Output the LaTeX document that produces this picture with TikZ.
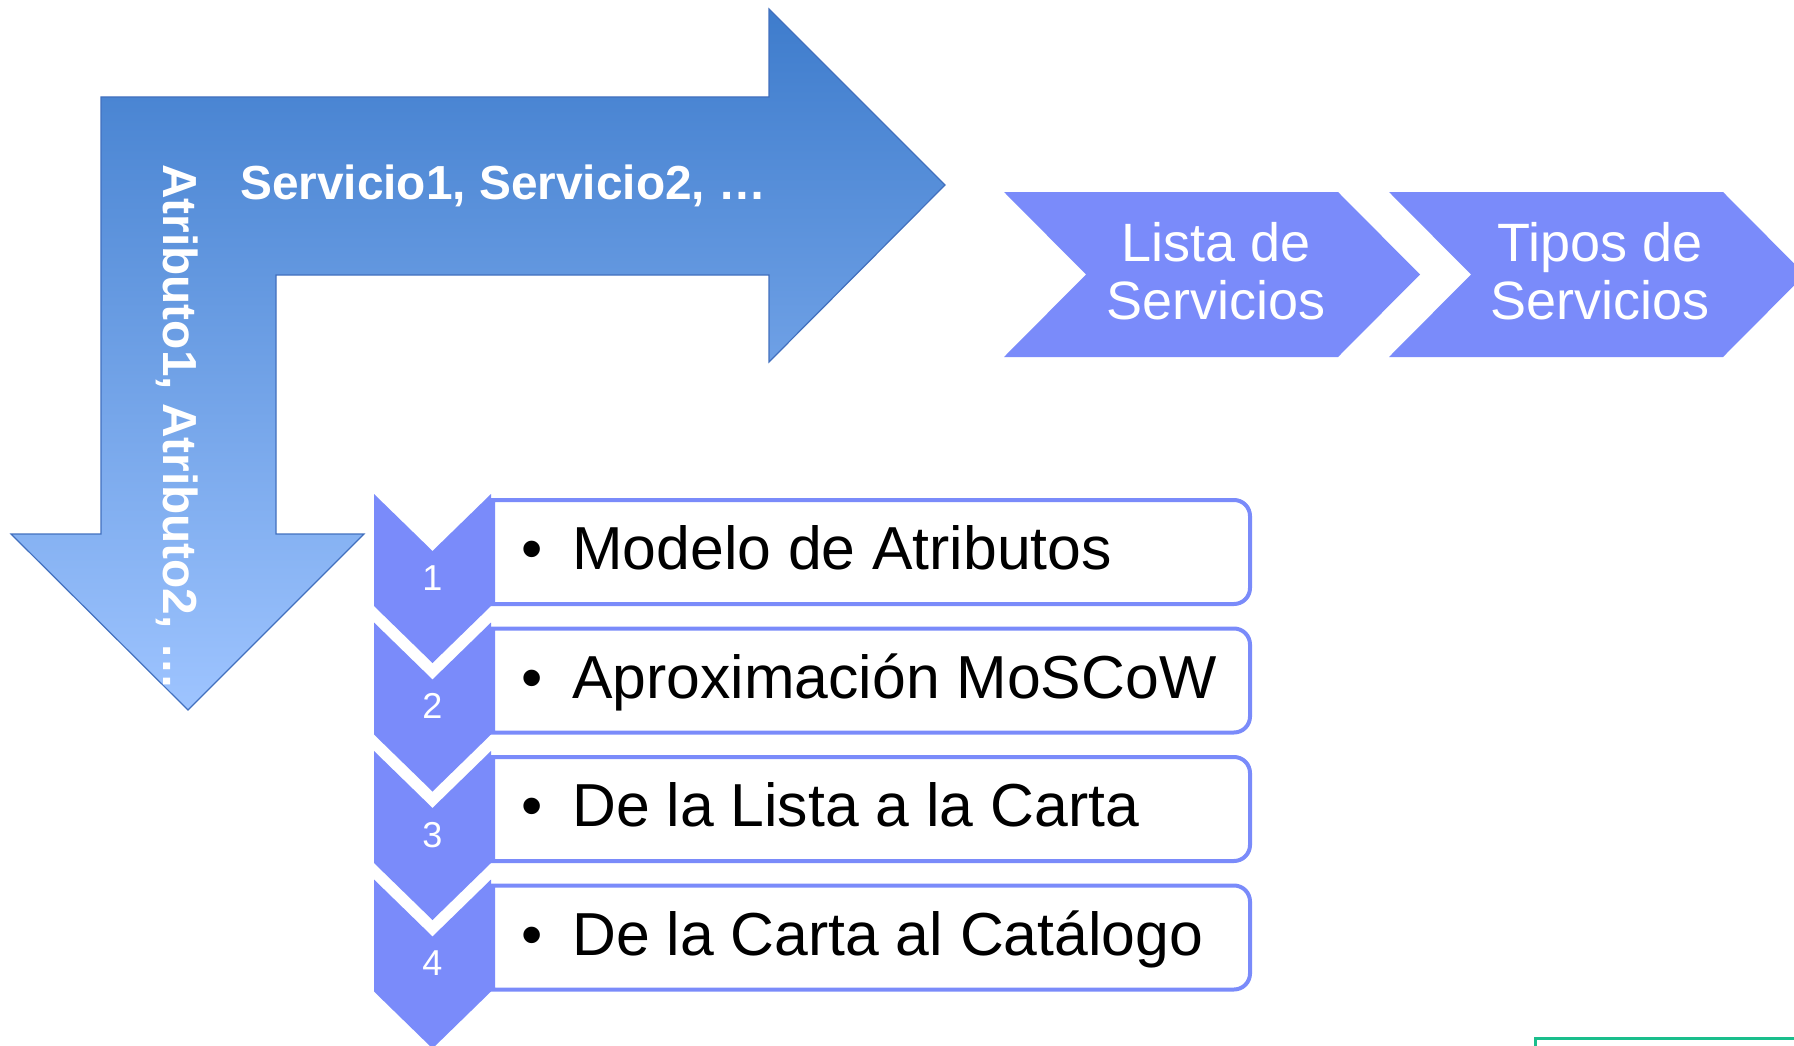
\documentclass[tikz,border=0pt]{standalone}
\usepackage{fontspec}
\setmainfont{Liberation Sans}
\definecolor{arrowtop}{RGB}{62,124,204}
\definecolor{arrowbot}{RGB}{158,196,255}
\definecolor{arrowline}{RGB}{66,112,190}
\definecolor{peri}{RGB}{122,139,250}
\definecolor{greenline}{RGB}{26,190,140}
\tikzset{
  bigtxt/.style={text=white,font=\fontsize{47.8}{50}\selectfont\bfseries,inner sep=0pt},
  chevtxt/.style={text=white,font=\fontsize{54}{58}\selectfont,align=center,inner sep=0pt},
  vchev/.style={fill=peri,draw=none},
  hchev/.style={fill=peri,draw=none},
  itembox/.style={draw=peri,line width=4pt,fill=white},
  itemtxt/.style={text=black,font=\fontsize{60.7}{64}\selectfont,inner sep=0pt,anchor=base west},
  numtxt/.style={text=white,font=\fontsize{36}{40}\selectfont,inner sep=0pt,anchor=base},
}
\begin{document}
\begin{tikzpicture}[x=1pt,y=-1pt]
\useasboundingbox (0,0) rectangle (1794,1046);
\clip (0,0) rectangle (1794,1046);
% bent arrow
\path[top color=arrowtop,bottom color=arrowbot,draw=arrowline,line width=1.2pt]
  (101,97) -- (769,97) -- (769,9) -- (945,185) -- (769,362) -- (769,275)
  -- (276,275) -- (276,534) -- (364,534) -- (188,710) -- (11,534) -- (101,534) -- cycle;
\node[bigtxt,anchor=base west] (serv) at (240,200) {Servicio1, Servicio2, …};
\node[bigtxt,anchor=base west,rotate=-90] (atr) at (163,164) {Atributo1, Atributo2, …};
% right chevrons
\path[hchev] (1004,192) -- (1338,192) -- (1420,274.5) -- (1338,357) -- (1004,357) -- (1086,274.5) -- cycle;
\path[hchev] (1389,192) -- (1723,192) -- (1805,274.5) -- (1723,357) -- (1389,357) -- (1471,274.5) -- cycle;
\node[chevtxt] (lista) at (1216,271.5) {Lista de\\Servicios};
\node[chevtxt] (tipos) at (1600,271.5) {Tipos de\\Servicios};
% item boxes and vertical chevrons
\foreach \i/\t in {0/Modelo de Atributos,1/Aproximación MoSCoW,2/De la Lista a la Carta,3/De la Carta al Catálogo}{
  \pgfmathsetmacro{\yt}{494+128.5*\i}
  \pgfmathsetmacro{\yb}{500+128.5*\i}
  \draw[itembox] (493,\yb) -- (1234,\yb) arc[start angle=-90,end angle=0,radius=16]
     -- (1250,\yb+88) arc[start angle=0,end angle=90,radius=16] -- (493,\yb+104) -- cycle;
  \path[vchev] (374,\yt) -- (432.5,\yt+57) -- (491,\yt) -- (491,\yt+112) -- (432.5,\yt+169) -- (374,\yt+112) -- cycle;
  \node[itemtxt] (item\i) at (521,569.5+128.5*\i) {\makebox[51pt][l]{•}\t};
  \pgfmathtruncatemacro{\n}{\i+1}
  \node[numtxt] (num\i) at (432.5,590+128.6*\i) {\n};
}
% green frame corner
\draw[greenline,line width=3pt] (1535,1060) -- (1535,1038) -- (1810,1038);
\end{tikzpicture}
\end{document}
